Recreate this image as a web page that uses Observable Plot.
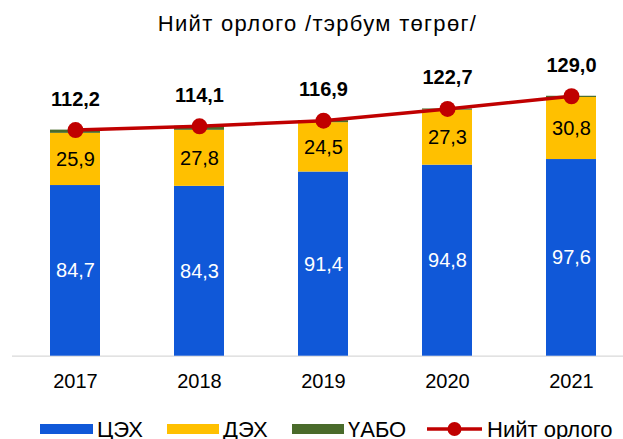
<!DOCTYPE html>
<html><head><meta charset="utf-8">
<script src="https://cdn.jsdelivr.net/npm/d3@7"></script>
<script src="https://cdn.jsdelivr.net/npm/@observablehq/plot@0.6"></script>
<style>
body{margin:0;background:#fff;font-family:"Liberation Sans",Arial,sans-serif;}
#wrap{width:623px;position:relative;overflow:hidden;}
#title{height:44px;padding-top:4px;line-height:40px;font-size:22px;letter-spacing:1.3px;text-align:center;color:#000;padding-left:12px;box-sizing:border-box;width:623px;white-space:nowrap;}
#legend{position:relative;height:39px;font-size:22px;color:#000;width:623px;}
#legend .sw{position:absolute;height:10px;top:24px;}
#legend .tx{position:absolute;top:19px;line-height:22px;white-space:nowrap;}
svg{display:block;}
</style></head><body>
<div id="wrap"><div id="title">Нийт орлого /тэрбум төгрөг/</div><div id="chart"></div><div id="legend"></div></div>
<script>
const years = ["2017", "2018", "2019", "2020", "2021"];
const seriesNames = ["ЦЭХ", "ДЭХ", "ҮАБО"];
const tsehValues = [84.7, 84.3, 91.4, 94.8, 97.6];
const dehValues = [25.9, 27.8, 24.5, 27.3, 30.8];
const uaboValues = [1.6, 2.0, 1.0, 0.6, 0.6];
const totalValues = [112.2, 114.1, 116.9, 122.7, 129.0];
const lineName = "Нийт орлого";
const seriesColors = ["#1058D8", "#FFC000", "#4A6B2B"];
const lineColor = "#C00000";

const fmt = v => v.toFixed(1).replace(".", ",");
const seriesValues = [tsehValues, dehValues, uaboValues];
const rows = [];
years.forEach((y, i) => seriesNames.forEach((s, j) => rows.push({year: y, series: s, value: seriesValues[j][i]})));
const totals = years.map((y, i) => ({year: y, total: totalValues[i]}));
const labelRows = rows.filter(d => d.series !== "ҮАБО");

const H = 356;
const base = 311.7;
const k = 2.015;
const chart = Plot.plot({
  width: 623,
  height: H,
  marginLeft: 12,
  marginRight: 0,
  marginTop: 0,
  marginBottom: H - base,
  style: {fontSize: "20px", fontFamily: "'Liberation Sans', Arial, sans-serif", color: "#000", background: "#fff"},
  x: {domain: years, range: [23.6, 622.2], paddingInner: 0.6, paddingOuter: 0.2, tickSize: 0, tickPadding: 18, label: null},
  y: {domain: [0, 150], range: [base, base - 150 * k], axis: null},
  color: {domain: seriesNames, range: seriesColors},
  marks: [
    Plot.ruleY([0], {stroke: "#d9d9d9", strokeWidth: 1.3}),
    Plot.barY(rows, Plot.stackY({x: "year", y: "value", z: "series", fill: "series"})),
    Plot.text(labelRows.filter(d => d.series === "ЦЭХ"), Plot.stackY({x: "year", y: "value", z: "series", text: d => fmt(d.value), fill: "white", fontSize: 20})),
    Plot.text(labelRows, Plot.stackY({x: "year", y: "value", z: "series", text: d => d.series === "ДЭХ" ? fmt(d.value) : "", fill: "#000", fontSize: 20})),
    Plot.line(totals, {x: "year", y: "total", stroke: lineColor, strokeWidth: 3.5}),
    Plot.dot(totals, {x: "year", y: "total", r: 8, fill: lineColor}),
    Plot.text(totals, {x: "year", y: "total", text: d => fmt(d.total), dy: -31, fontWeight: "bold", fontSize: 20, fill: "#000"})
  ]
});
document.getElementById("chart").appendChild(chart);

const legend = document.getElementById("legend");
const items = [
  {kind: "bar", color: seriesColors[0], label: seriesNames[0], sx: 40, sw: 53, tx: 97},
  {kind: "bar", color: seriesColors[1], label: seriesNames[1], sx: 167, sw: 52, tx: 223},
  {kind: "bar", color: seriesColors[2], label: seriesNames[2], sx: 292, sw: 52, tx: 348},
  {kind: "line", color: lineColor, label: lineName, sx: 427, sw: 55, tx: 487}
];
items.forEach(it => {
  if (it.kind === "bar") {
    const s = document.createElement("div");
    s.className = "sw";
    s.style.left = it.sx + "px"; s.style.width = it.sw + "px"; s.style.background = it.color;
    legend.appendChild(s);
  } else {
    const s = document.createElementNS("http://www.w3.org/2000/svg", "svg");
    s.setAttribute("width", it.sw); s.setAttribute("height", 20);
    s.style.position = "absolute"; s.style.left = it.sx + "px"; s.style.top = "19px";
    s.innerHTML = `<line x1="0" x2="${it.sw}" y1="10" y2="10" stroke="${it.color}" stroke-width="3.5"/><circle cx="${it.sw / 2}" cy="10" r="7" fill="${it.color}"/>`;
    legend.appendChild(s);
  }
  const t = document.createElement("div");
  t.className = "tx"; t.style.left = it.tx + "px"; t.textContent = it.label;
  legend.appendChild(t);
});
</script>
</body></html>
